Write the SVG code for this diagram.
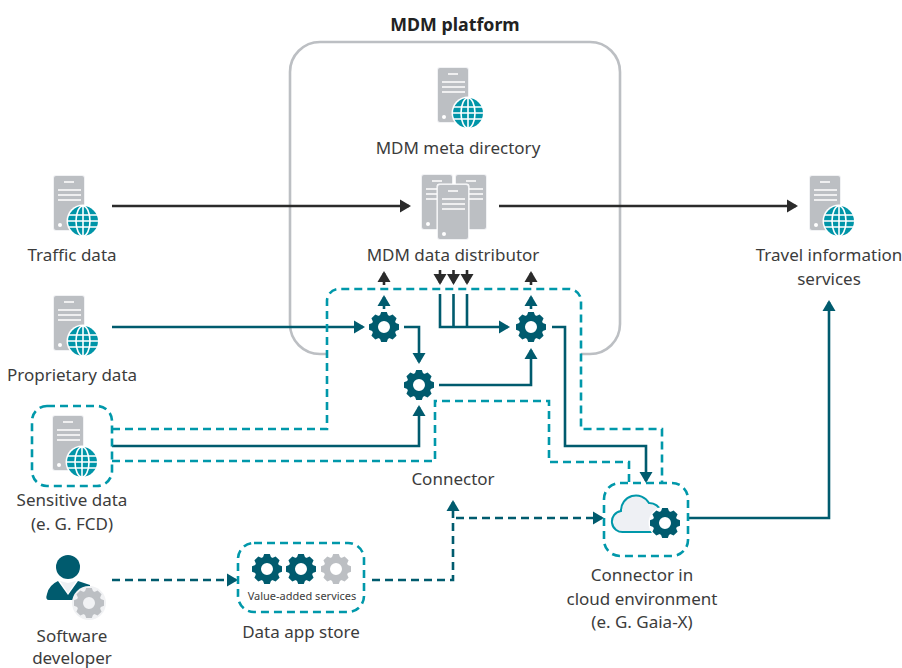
<svg xmlns="http://www.w3.org/2000/svg" xmlns:xlink="http://www.w3.org/1999/xlink" width="902" height="668" viewBox="0 0 902 668">
<style>
text{font-family:"Noto Sans","Open Sans","Liberation Sans",sans-serif;font-size:17px;fill:#3c3c3c;text-anchor:middle}
.b{font-weight:700;fill:#222;font-size:17.800px}
.s{font-size:11px}
.k{fill:none;stroke:#2b2b2b;stroke-width:2.6}
.t{fill:none;stroke:#005b6e;stroke-width:2.6}
.td{fill:none;stroke:#005b6e;stroke-width:2.6;stroke-dasharray:8 5}
.d{fill:none;stroke:#0098aa;stroke-width:2.6;stroke-dasharray:8 5}
.gt{color:#005b6e}
.gg{color:#bcbfc3}
</style>
<defs>
<marker id="ak" markerUnits="userSpaceOnUse" markerWidth="14" markerHeight="14" refX="9" refY="7" orient="auto"><path d="M0 0.5L11 7L0 13.5z" fill="#2b2b2b"/></marker>
<marker id="at" markerUnits="userSpaceOnUse" markerWidth="14" markerHeight="14" refX="9" refY="7" orient="auto"><path d="M0 0.5L11 7L0 13.5z" fill="#005b6e"/></marker>
<g id="srv"><rect x="-1" y="-1" width="32" height="56" rx="3" fill="#f1f2f4"/><rect width="30" height="54" rx="2" fill="#bcbfc3"/><path d="M10 6H20M4 14H27M4 19H27M4 24H27" stroke="#fff" stroke-width="1.7" fill="none"/><circle cx="6" cy="49" r="2" fill="#fff"/></g>
<g id="globe"><circle r="16.5" fill="#fff"/><circle r="15" fill="#0095a8"/><g fill="none" stroke="#fff" stroke-width="1.6"><ellipse rx="7" ry="15"/><path d="M0-15V15M-14-6H14M-15 0H15M-14 6H14"/></g></g>
<path id="tooth" d="M10.5-4.500L15-2.800V2.800L10.500 4.500z" fill="currentColor"/>
<g id="gear"><circle r="9.200" fill="none" stroke="currentColor" stroke-width="6.400"/><use href="#tooth"/><use href="#tooth" transform="rotate(45)"/><use href="#tooth" transform="rotate(90)"/><use href="#tooth" transform="rotate(135)"/><use href="#tooth" transform="rotate(180)"/><use href="#tooth" transform="rotate(225)"/><use href="#tooth" transform="rotate(270)"/><use href="#tooth" transform="rotate(315)"/></g>
</defs>
<g id="mdm-platform">
<path d="M327 354H320A30 30 0 0 1 290 324V72A30 30 0 0 1 320 42H590A30 30 0 0 1 620 72V324A30 30 0 0 1 590 354H581" fill="none" stroke="#bcbfc3" stroke-width="2.6"/>
<text class="b" x="455" y="31">MDM platform</text>
</g>
<g id="connectors">
<path class="k" d="M112 206H409" marker-end="url(#ak)"/>
<path class="k" d="M499 206H796" marker-end="url(#ak)"/>
<path class="k" d="M384 285V273" marker-end="url(#ak)"/>
<path class="k" d="M531 285V273" marker-end="url(#ak)"/>
<path class="k" d="M440 270V283" marker-end="url(#ak)"/>
<path class="k" d="M453.500 270V283" marker-end="url(#ak)"/>
<path class="k" d="M467 270V283" marker-end="url(#ak)"/>
<path class="t" d="M112 327H363" marker-end="url(#at)"/>
<path class="t" d="M384 309V297" marker-end="url(#at)"/>
<path class="t" d="M531 309V297" marker-end="url(#at)"/>
<path class="t" d="M404 327H419V362" marker-end="url(#at)"/>
<path class="t" d="M439 385H531V350" marker-end="url(#at)"/>
<path class="t" d="M112 446H419V407" marker-end="url(#at)"/>
<path class="t" d="M552 327H565V446H646V481" marker-end="url(#at)"/>
<path class="t" d="M440 294V327H508" marker-end="url(#at)"/>
<path class="t" d="M453.500 294V327M467 294V327"/>
<path class="t" d="M689 518H829V302" marker-end="url(#at)"/>
<path class="d" d="M112 429H327V301A12 12 0 0 1 339 289H569A12 12 0 0 1 581 301V429H662V483"/>
<path class="d" d="M112 461H435V401H549V462H629V483"/>
<path class="td" d="M112 580H236" marker-end="url(#at)"/>
<path class="td" d="M372 580H453V502" marker-end="url(#at)"/>
<path class="td" d="M456 518H602" marker-end="url(#at)"/>
</g>
<g id="traffic-data"><use href="#srv" x="54" y="176"/><use href="#globe" x="83" y="221"/><text x="72" y="261">Traffic data</text></g>
<g id="proprietary-data"><use href="#srv" x="54" y="296"/><use href="#globe" x="83" y="341"/><text x="72" y="381">Proprietary data</text></g>
<g id="sensitive-data"><rect class="d" x="32" y="406" width="80" height="80" rx="15"/><use href="#srv" x="53" y="416"/><use href="#globe" x="82" y="462"/><text x="72" y="506">Sensitive data</text><text x="72" y="530">(e. G. FCD)</text></g>
<g id="software-developer">
<circle cx="68" cy="567" r="12" fill="#005b6e"/>
<path d="M58 581L68 595L78 581L90 585V600H49Q45 600 47 594Q49 585 58 581z" fill="#005b6e"/>
<path d="M60 581L68 593L76 581L68 583z" fill="#eef0f3"/>
<circle cx="89" cy="603" r="17" fill="#f1f2f4"/><use href="#gear" class="gg" x="89" y="603"/>
<text x="72" y="642">Software</text><text x="72" y="663.500">developer</text></g>
<g id="meta-directory"><use href="#srv" x="438" y="68"/><use href="#globe" x="468" y="113"/><text x="458" y="154">MDM meta directory</text></g>
<g id="data-distributor"><use href="#srv" x="422" y="175"/><use href="#srv" x="456" y="175"/><rect x="436.500" y="183.500" width="33" height="57" rx="3" fill="#fff"/><use href="#srv" x="438" y="185"/><text x="453" y="261">MDM data distributor</text></g>
<g id="travel-info"><use href="#srv" x="810" y="176"/><use href="#globe" x="839" y="221"/><text x="829" y="261">Travel information</text><text x="829" y="285">services</text></g>
<g id="gear-1"><use href="#gear" class="gt" x="384" y="327"/></g>
<g id="gear-2"><use href="#gear" class="gt" x="419" y="385"/></g>
<g id="gear-3"><use href="#gear" class="gt" x="531" y="327"/></g>
<g id="connector-label"><text x="453" y="485">Connector</text></g>
<g id="data-app-store"><rect class="d" x="238" y="543" width="126" height="69" rx="16"/><use href="#gear" class="gt" x="267" y="569"/><use href="#gear" class="gt" x="301" y="569"/><use href="#gear" class="gg" x="336" y="569"/><text class="s" x="302" y="600">Value-added services</text><text x="301" y="638">Data app store</text></g>
<g id="cloud-connector"><rect class="d" x="604" y="483" width="84" height="73" rx="16"/>
<path d="M624 532A10.500 10.500 0 0 1 621 511A15 15 0 0 1 649 503A12 12 0 0 1 661 512L661 532z" fill="#eef0f4" stroke="#0098aa" stroke-width="2"/>
<circle cx="665" cy="523" r="16.500" fill="#fff"/><use href="#gear" class="gt" x="665" y="523"/>
<text x="642" y="581">Connector in</text><text x="642" y="605">cloud environment</text><text x="642" y="628">(e. G. Gaia-X)</text></g>
</svg>
